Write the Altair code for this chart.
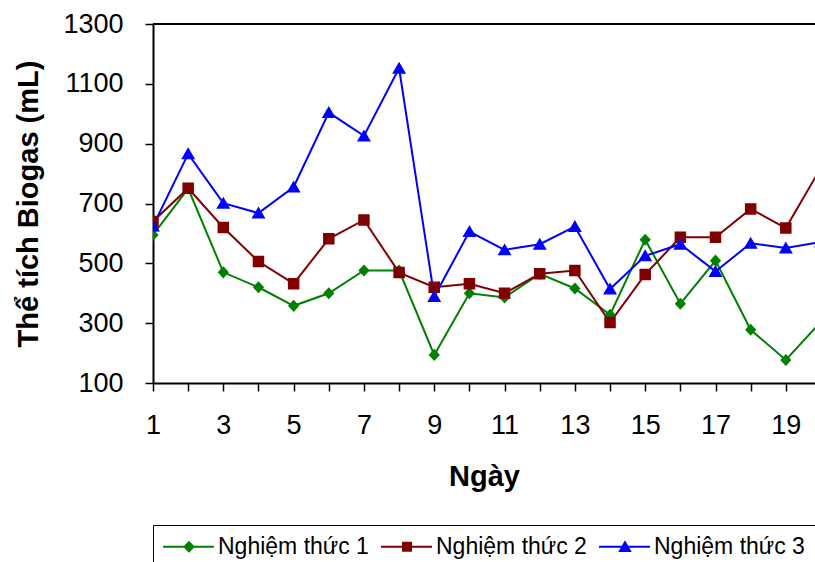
import altair as alt
import pandas as pd

days = list(range(1, 21))
series_names = ["Nghiệm thức 1", "Nghiệm thức 2", "Nghiệm thức 3"]
nt1 = [595, 750, 470, 420, 358, 400, 476, 476, 194, 400, 386, 465, 416, 328, 579, 365, 509, 278, 177, 305]
nt2 = [640, 751, 620, 506, 432, 582, 645, 469, 420, 432, 400, 465, 476, 302, 463, 587, 587, 682, 618, 820]
nt3 = [625, 866, 701, 668, 755, 1004, 926, 1152, 389, 606, 545, 564, 623, 414, 525, 564, 473, 567, 551, 571]
colors = ["#008000", "#800000", "#0000FF"]
y_ticks = [100, 300, 500, 700, 900, 1100, 1300]
x_ticks = list(range(1, 20))

rows = []
for name, vals in zip(series_names, [nt1, nt2, nt3]):
    for d, v in zip(days, vals):
        rows.append({"day": d, "value": v, "series": name})
df = pd.DataFrame(rows)

FONT = "Liberation Sans"

marker_paths = [
    "M0,-0.92L0.85,0L0,0.92L-0.85,0Z",
    "M-0.95,-0.95L0.95,-0.95L0.95,0.95L-0.95,0.95Z",
    "M0,-0.9L1.05,0.9L-1.05,0.9Z",
]
legend_paths = [
    "M-1.15,0L3.95,0M1.45,-0.45L1.9,0L1.45,0.45L1.0,0Z",
    "M-1.15,0L3.95,0M1.05,-0.4L1.85,-0.4L1.85,0.4L1.05,0.4Z",
    "M-1.15,0L3.95,0M1.45,-0.45L1.95,0.42L0.95,0.42Z",
]

x = alt.X(
    "day:Q",
    scale=alt.Scale(domain=[1, 19.83], nice=False, zero=False),
    axis=alt.Axis(
        values=x_ticks,
        labelExpr="datum.value % 2 == 1 ? datum.value : ''",
        title="Ngày",
        grid=False,
        labelFlush=False,
        labelOverlap=False,
        tickSize=8,
        tickWidth=1.5,
        tickColor="black",
        domainColor="black",
        domainWidth=2,
        labelFontSize=27,
        labelFont=FONT,
        labelColor="black",
        labelPadding=21,
        titleFontSize=29,
        titleFont=FONT,
        titleFontWeight="bold",
        titleColor="black",
        titleBaseline="middle",
        titleY=93,
    ),
)
y = alt.Y(
    "value:Q",
    scale=alt.Scale(domain=[100, 1300], nice=False, zero=False),
    axis=alt.Axis(
        values=y_ticks,
        format="d",
        title="Thể tích Biogas (mL)",
        grid=False,
        tickSize=8,
        tickWidth=1.5,
        tickColor="black",
        domainColor="black",
        domainWidth=2,
        labelFontSize=27,
        labelFont=FONT,
        labelColor="black",
        labelPadding=22,
        labelBaseline="middle",
        titleFontSize=29,
        titleFont=FONT,
        titleFontWeight="bold",
        titleColor="black",
        titleAngle=270,
        titleBaseline="middle",
        titleAlign="center",
        titleX=-125,
        titleY=179.5,
    ),
)

legend = alt.Legend(
    title=None,
    orient="none",
    legendX=0,
    legendY=501,
    direction="horizontal",
    strokeColor="black",
    fillColor="white",
    padding=10,
    labelFont=FONT,
    labelFontSize=23,
    labelColor="black",
    labelOffset=32,
    columnPadding=8,
    symbolSize=400,
    symbolStrokeWidth=2,
    symbolOpacity=1,
)

color_scale = alt.Scale(domain=series_names, range=colors)

base = alt.Chart(df)

legend_layer = base.transform_filter("false").mark_point(filled=True, opacity=1, strokeWidth=2).encode(
    x=x,
    y=y,
    color=alt.Color("series:N", scale=color_scale, legend=legend),
    stroke=alt.Stroke("series:N", scale=color_scale, legend=legend),
    shape=alt.Shape("series:N", scale=alt.Scale(domain=series_names, range=legend_paths), legend=legend),
)

line_layers = []
point_layers = []
for name, col, path in zip(series_names, colors, marker_paths):
    sub = base.transform_filter(alt.datum.series == name)
    line_layers.append(
        sub.mark_line(strokeWidth=2, clip=True, color=col).encode(x=x, y=y, order="day:Q")
    )
    point_layers.append(
        sub.mark_point(
            filled=True, size=100, opacity=1, clip=True, strokeWidth=2,
            shape=path, color=col, fill=col, stroke=col,
        ).encode(x=x, y=y)
    )

top_border = alt.Chart(df).mark_rule(color="black", strokeWidth=2).encode(
    y=alt.datum(1300)
)

chart = (
    alt.layer(legend_layer, *line_layers, *point_layers, top_border)
    .properties(
        width=662,
        height=359,
        padding={"left": 153, "top": 24, "right": 0, "bottom": 179},
        autosize=alt.AutoSizeParams(type="none"),
    )
    .configure_view(stroke=None)
    .configure(background="white")
)

chart.save("out.html", embed_options={"renderer": "svg", "actions": False})
